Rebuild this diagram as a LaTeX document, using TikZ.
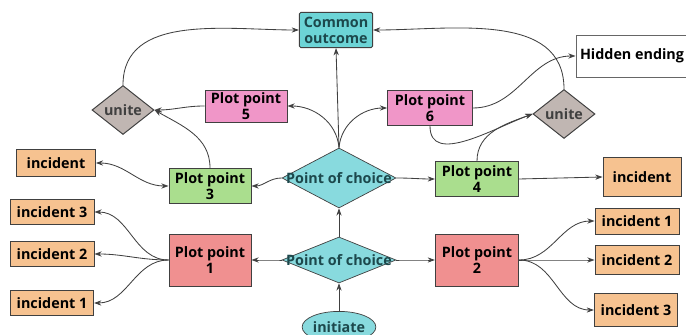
\documentclass[tikz,border=0pt]{standalone}
\usepackage{fontspec}
\setmainfont{Open Sans}
\usetikzlibrary{arrows.meta,shapes.geometric}
\definecolor{plotLine}{RGB}{64,64,64}
\definecolor{plotTeal}{RGB}{108,212,214}
\definecolor{plotChoice}{RGB}{136,218,222}
\definecolor{plotTealText}{RGB}{28,72,76}
\definecolor{plotPink}{RGB}{240,150,200}
\definecolor{plotGreen}{RGB}{170,222,142}
\definecolor{plotRed}{RGB}{240,144,144}
\definecolor{plotOrange}{RGB}{246,194,144}
\definecolor{plotGray}{RGB}{192,182,178}

\begin{document}
\begin{tikzpicture}[
      box/.style={draw=plotLine,line width=0.7pt,align=center,inner sep=1pt,
        font=\fontsize{10.2}{11.4}\selectfont\bfseries},
      pp/.style={box,minimum width=2.05cm,minimum height=0.88cm},
      inc/.style={box,fill=plotOrange,minimum width=2.1cm,minimum height=0.62cm},
      unite/.style={diamond,draw=plotLine,line width=0.7pt,fill=plotGray,inner sep=0pt,
        minimum width=1.55cm,minimum height=1.1cm,text=plotLine,font=\fontsize{10.2}{11.4}\selectfont\bfseries},
      choice/.style={diamond,draw=plotLine,line width=0.5pt,fill=plotChoice,inner sep=0pt,
        minimum width=2.85cm},
      choicetxt/.style={text=plotTealText,font=\fontsize{10.2}{11.4}\selectfont\bfseries},
      arr/.style={-{Stealth[length=1.8mm,width=1.3mm]},line width=0.6pt,draw=plotLine}
    ]
    \useasboundingbox (0,0) rectangle (17.15,8.375);
    % top row
    \node[box,fill=plotTeal,text=plotTealText,rounded corners=1pt,minimum width=1.83cm,minimum height=0.88cm] (common) at (8.4,7.625) {Common\\outcome};
    \node[box,fill=white,draw=plotLine!80,minimum width=3.1cm,minimum height=1.05cm] (hidden) at (15.95,6.975) {\hspace*{-0.3cm}Hidden ending};
    \node[unite] (unitel) at (3.075,5.625) {unite};
    \node[unite] (uniter) at (14.1,5.525) {unite};
    \node[pp,fill=plotPink,minimum height=0.8cm] (pp5) at (6.15,5.725) {Plot point\\5};
    \node[pp,fill=plotPink,minimum width=2.12cm] (pp6) at (10.75,5.675) {Plot point\\6};
    % choices
    \node[choice,minimum height=1.5cm] (poc1) at (8.475,3.925) {};
    \node[choicetxt] (poc1txt) at (poc1) {Point of choice};
    \node[choice,minimum height=1.15cm] (poc2) at (8.475,1.875) {};
    \node[choicetxt] (poc2txt) at (poc2) {Point of choice};
    \node[ellipse,draw=plotLine,line width=0.5pt,fill=plotChoice,text=plotTealText,inner sep=0pt,
      minimum width=1.75cm,minimum height=0.78cm,font=\fontsize{10.2}{11.4}\selectfont\bfseries] (init) at (8.475,0.2) {initiate};
    % plot points
    \node[pp,fill=plotGreen] (pp3) at (5.25,3.725) {Plot point\\3};
    \node[pp,fill=plotGreen,minimum width=2.08cm] (pp4) at (11.925,3.9) {Plot point\\4};
    \node[pp,fill=plotRed,minimum height=1.3cm] (pp1) at (5.25,1.875) {Plot point\\1};
    \node[pp,fill=plotRed,minimum width=2.08cm,minimum height=1.3cm] (pp2) at (11.925,1.875) {Plot point\\2};
    % incidents
    \node[inc,minimum width=1.97cm,minimum height=0.67cm] (incl) at (1.4,4.3) {incident};
    \node[inc] (inc3l) at (1.3,3.075) {incident 3};
    \node[inc] (inc2l) at (1.3,2.025) {incident 2};
    \node[inc,minimum width=2.08cm] (inc1l) at (1.3,0.8) {incident 1};
    \node[inc,minimum width=1.95cm,minimum height=0.97cm] (incr) at (16.05,3.95) {incident};
    \node[inc,minimum height=0.65cm] (inc1r) at (15.925,2.85) {incident 1};
    \node[inc,minimum height=0.72cm] (inc2r) at (15.925,1.875) {incident 2};
    \node[inc,minimum width=2.08cm,minimum height=0.82cm] (inc3r) at (15.9,0.625) {incident 3};
    % connectors
    \draw[arr] (init) -- (poc2);
    \draw[arr] (poc2) -- (poc1);
    \draw[arr] (poc2.west) to[out=180,in=0] (pp1.east);
    \draw[arr] (poc2.east) to[out=0,in=180] (pp2.west);
    \draw[arr] (pp1.west) to[out=180,in=0] (inc3l.east);
    \draw[arr] (pp1.west) to[out=180,in=0] (inc2l.east);
    \draw[arr] (pp1.west) to[out=180,in=0] (inc1l.east);
    \draw[arr] (pp2.east) to[out=0,in=180] (inc1r.west);
    \draw[arr] (pp2.east) to[out=0,in=180] (inc2r.west);
    \draw[arr] (pp2.east) to[out=0,in=180] (inc3r.west);
    \draw[arr] (poc1.west) to[out=180,in=0] (pp3.east);
    \draw[arr] (poc1.east) to[out=0,in=180] (pp4.west);
    \draw[arr] (pp4.east) -- (incr.west);
    \draw[arr,{Stealth[length=1.8mm,width=1.3mm]}-{Stealth[length=1.8mm,width=1.3mm]}] (incl.east) to[out=0,in=180] (pp3.west);
    \draw[arr] (pp3.north) to[out=90,in=-30] (unitel.east);
    \draw[arr] (pp5.west) to[out=180,in=0] (unitel.east);
    \draw[arr] (unitel.north) to[out=90,in=180] (common.west);
    \draw[arr] (poc1.north) -- (common.south);
    \draw[arr] (poc1.north) to[out=95,in=0] (pp5.east);
    \draw[arr] (poc1.north) to[out=85,in=180] (pp6.west);
    \draw[arr] (pp6.east) to[out=0,in=180] (hidden.west);
    \draw[arr] (pp6.south) to[out=-90,in=200] (uniter.west);
    \draw[arr] (pp4.north) to[out=90,in=200] (uniter.west);
    \draw[arr] (uniter.north) to[out=90,in=0] (common.east);
  \end{tikzpicture}
\end{document}
